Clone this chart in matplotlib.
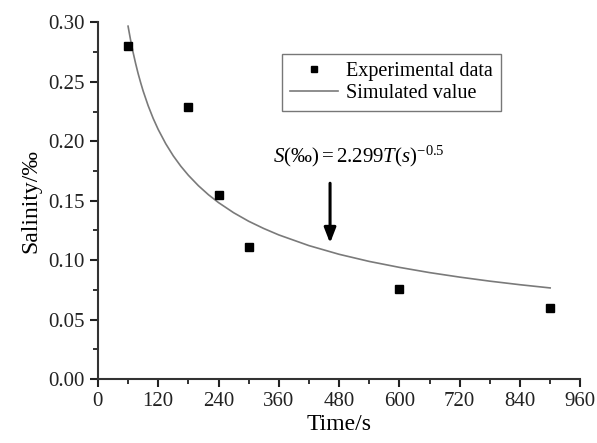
import matplotlib
matplotlib.use('Agg')
import matplotlib.pyplot as plt
from matplotlib.ticker import MultipleLocator, FormatStrFormatter

plt.rcParams['font.family'] = ['Liberation Serif', 'DejaVu Serif']
plt.rcParams['mathtext.fontset'] = 'custom'
plt.rcParams['mathtext.rm'] = 'Liberation Serif'
plt.rcParams['mathtext.it'] = 'Liberation Serif:italic'

# experimental points
exp_time = [60, 180, 240, 300, 600, 900]
exp_salinity = [0.280, 0.229, 0.155, 0.111, 0.076, 0.060]

# simulated curve
sim_time = [60, 65, 70, 75, 80, 85, 90, 100, 110, 120, 135, 150, 165, 180,
            200, 220, 240, 270, 300, 330, 360, 420, 480, 540, 600, 660, 720,
            780, 840, 900]
sim_salinity = [0.2968, 0.2852, 0.2748, 0.2655, 0.2570, 0.2494, 0.2423, 0.2299,
                0.2192, 0.2099, 0.1979, 0.1877, 0.1790, 0.1714, 0.1626, 0.1550,
                0.1484, 0.1399, 0.1327, 0.1266, 0.1212, 0.1122, 0.1049, 0.0989,
                0.0939, 0.0895, 0.0857, 0.0823, 0.0793, 0.0766]

fig = plt.figure(figsize=(5.97, 4.43), dpi=100)
ax = fig.add_axes([0.164, 0.1445, 0.808, 0.805])

ax.plot(sim_time, sim_salinity, color='#7a7a7a', lw=1.2, label='Simulated value')
ax.plot(exp_time, exp_salinity, 's', color='black', ms=6, label='Experimental data')

ax.set_xlim(0, 960)
ax.set_ylim(0, 0.30)
ax.xaxis.set_major_locator(MultipleLocator(120))
ax.xaxis.set_minor_locator(MultipleLocator(60))
ax.yaxis.set_major_locator(MultipleLocator(0.05))
ax.yaxis.set_minor_locator(MultipleLocator(0.025))
ax.yaxis.set_major_formatter(FormatStrFormatter('%.2f'))

for s in ['top', 'right']:
    ax.spines[s].set_visible(False)
for s in ['left', 'bottom']:
    ax.spines[s].set_linewidth(1.5)
    ax.spines[s].set_color('#333333')
ax.tick_params(which='major', direction='out', length=6, width=1.5, labelsize=15, colors='#222222')
ax.tick_params(which='minor', direction='out', length=3.5, width=1.3, colors='#222222')

ax.set_xlabel('Time/s', fontsize=17, labelpad=2)
ax.set_ylabel('Salinity/‰', fontsize=17, labelpad=5)

h, l = ax.get_legend_handles_labels()
leg = ax.legend(h[::-1], l[::-1], loc='upper left', bbox_to_anchor=(0.36, 0.94),
                fontsize=14.5, frameon=True, fancybox=False, edgecolor='#555555',
                handlelength=2.4, borderpad=0.4, labelspacing=0.15, handletextpad=0.4,
                markerscale=0.8)
leg.get_frame().set_linewidth(1.0)

ax.text(349, 0.187, r'$S(\mathrm{‰}) = 2.299T(s)^{-0.5}$', fontsize=15,
        va='center', ha='left')
ax.annotate('', xy=(462, 0.112), xytext=(462, 0.167),
            arrowprops=dict(arrowstyle='-|>,head_width=0.35,head_length=0.9',
                            color='black', lw=2.2))

fig.savefig('out.png', dpi=100)
